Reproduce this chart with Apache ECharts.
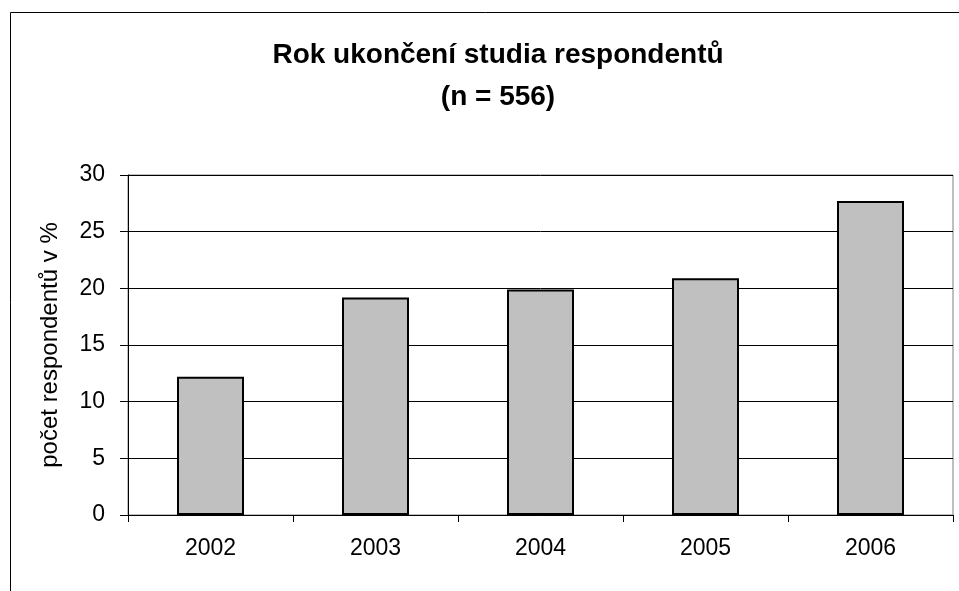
<!DOCTYPE html>
<html>
<head>
<meta charset="utf-8">
<title>Rok ukončení studia respondentů</title>
<script src="https://cdn.jsdelivr.net/npm/echarts@6/dist/echarts.min.js"></script>
<style>
  html, body { margin: 0; padding: 0; background: #fff; }
  #chart { width: 959px; height: 591px; }
</style>
</head>
<body>
<div id="chart"></div>
<script>
// data
const years = ['2002', '2003', '2004', '2005', '2006']
const shares = [12.2, 19.2, 19.9, 20.9, 27.7]
const yTicks = [0, 5, 10, 15, 20, 25, 30]

const font = '"Liberation Sans", Arial, sans-serif'

const chartDom = document.getElementById('chart')
const myChart = echarts.init(chartDom)

const option = {
  animation: false,
  backgroundColor: '#fff',
  title: {
    text: 'Rok ukončení studia respondentů\n(n = 556)',
    left: 493,
    top: 29,
    textAlign: 'center',
    textStyle: {
      fontFamily: font,
      fontSize: 28,
      fontWeight: 'bold',
      color: '#000',
      lineHeight: 42,
    },
  },
  // outer chart border (cut off at right and bottom)
  graphic: [
    {
      type: 'polyline',
      shape: { points: [[10.5, 600], [10.5, 12.5], [970, 12.5]] },
      style: { stroke: '#000', lineWidth: 1, fill: null },
    },
  ],
  grid: {
    left: 128,
    right: 6,
    top: 175,
    bottom: 76,
    show: true,
    borderColor: '#808080',
    borderWidth: 1,
  },
  xAxis: {
    type: 'category',
    data: years,
    axisLine: { lineStyle: { color: '#000', width: 1 } },
    axisTick: { show: true, length: 7, lineStyle: { color: '#000' } },
    axisLabel: {
      fontFamily: font,
      fontSize: 23,
      color: '#000',
      margin: 22,
    },
  },
  yAxis: {
    type: 'value',
    min: yTicks[0],
    max: yTicks[yTicks.length - 1],
    interval: 5,
    name: 'počet respondentů v %',
    nameLocation: 'middle',
    nameGap: 66,
    nameTextStyle: {
      fontFamily: font,
      fontSize: 24,
      color: '#000',
    },
    axisLine: { show: true, lineStyle: { color: '#000', width: 1 } },
    axisTick: { show: true, length: 8, lineStyle: { color: '#000' } },
    axisLabel: {
      fontFamily: font,
      fontSize: 23,
      color: '#000',
      margin: 23,
    },
    splitLine: { lineStyle: { color: '#000', width: 1 } },
  },
  series: [
    {
      type: 'bar',
      data: shares,
      barWidth: 67,
      itemStyle: {
        color: '#c0c0c0',
        borderColor: '#000',
        borderWidth: 2,
      },
    },
  ],
}

myChart.setOption(option)
</script>
</body>
</html>
